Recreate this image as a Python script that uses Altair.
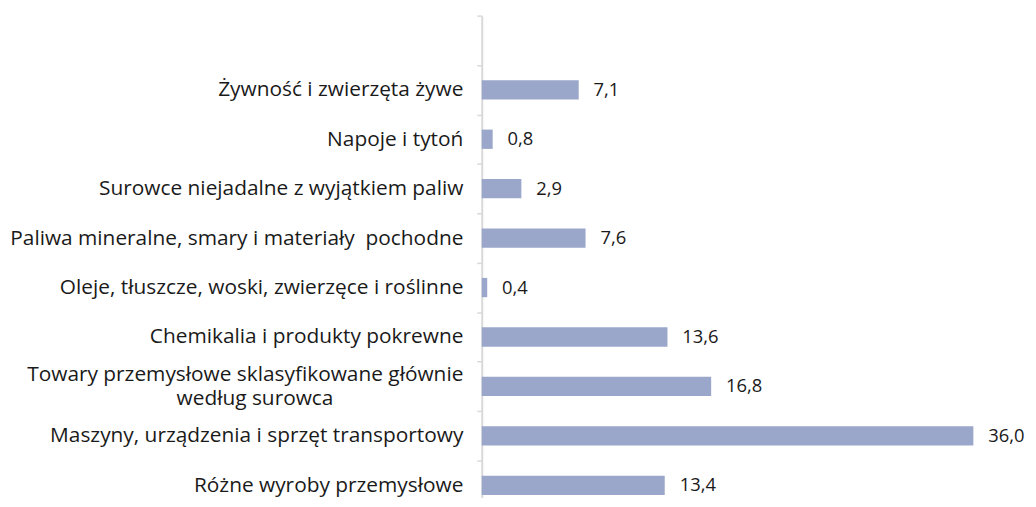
import altair as alt
import pandas as pd

NB = "\u00a0"
WJ = "\u2060"
categories = [
    "Żywność i zwierzęta żywe",
    "Napoje i tytoń",
    "Surowce niejadalne z wyjątkiem paliw",
    "Paliwa mineralne, smary i materiały" + NB + " pochodne",
    "Oleje, tłuszcze, woski, zwierzęce i roślinne",
    "Chemikalia i produkty pokrewne",
    "Towary przemysłowe sklasyfikowane głównie\nwedług surowca" + NB * 24 + WJ,
    "Maszyny, urządzenia i sprzęt transportowy",
    "Różne wyroby przemysłowe",
]
values = [7.1, 0.8, 2.9, 7.6, 0.4, 13.6, 16.8, 36.0, 13.4]

df = pd.DataFrame({"cat": categories, "val": values})
domain = [" "] + categories

FONT = "Open Sans"
TXT = "#1a1a1a"

label_expr = (
    "indexof(datum.label, '\\n') >= 0 ? "
    "[split(datum.label, '\\n')[0], '" + WJ + "', split(datum.label, '\\n')[1]] : ['" + WJ + "', datum.label]"
)

y_enc = alt.Y(
    "cat:N",
    scale=alt.Scale(domain=domain, range=[0, 497.8], paddingInner=0, paddingOuter=0),
    axis=alt.Axis(
        title=None,
        tickBand="extent",
        domainColor="#d9d9d9",
        domainWidth=2,
        tickColor="#d9d9d9",
        tickWidth=1.5,
        tickSize=5,
        labelFont=FONT,
        labelFontSize=21,
        labelColor=TXT,
        labelLimit=700,
        labelLineHeight=12,
        labelOffset=-12,
        labelPadding=14,
        labelExpr=label_expr,
    ),
)
x_enc = alt.X("val:Q", scale=alt.Scale(domain=[0, 37.82], nice=False, zero=True), axis=None)

base = alt.Chart(df)
bars = base.mark_bar(height=alt.RelativeBandSize(0.39), color="#9ba7ca").encode(x=x_enc, y=y_enc)
labels = base.transform_calculate(
    lab="replace(format(datum.val, '.1f'), '.', ',')"
).mark_text(align="left", baseline="middle", dx=15, font=FONT, fontSize=18.5, color=TXT).encode(
    x=x_enc, y=y_enc, text="lab:N"
)

chart = (
    alt.layer(bars, labels)
    .properties(
        width=520,
        height=484,
        autosize=alt.AutoSizeParams(type="none"),
        padding={"left": 477, "top": 6, "right": 30, "bottom": 0},
    )
    .configure_view(stroke=None)
)

chart.save("out.html", embed_options={"renderer": "svg", "actions": False})
